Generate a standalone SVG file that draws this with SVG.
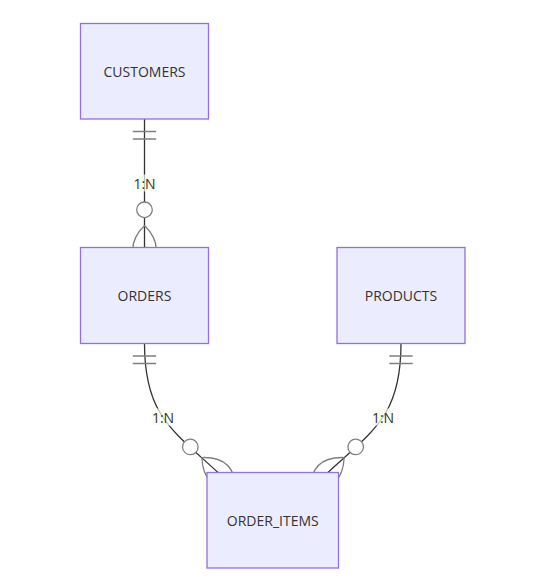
<svg xmlns="http://www.w3.org/2000/svg" width="543" height="586" viewBox="0 0 543 586">
  <style>
    .entity rect { fill: #ECECFF; stroke: #9370DB; stroke-width: 1.3; }
    .entity text { fill: #333333; font-family: "Open Sans", "Liberation Sans", sans-serif; font-size: 14px; text-anchor: middle; dominant-baseline: central; }
    .rel { fill: none; stroke: #333333; stroke-width: 1.3; marker-start: url(#onlyOneStart); marker-end: url(#zeroOrMoreEnd); }
    .lblbox { fill: #F9FFEC; opacity: 0.7; }
    .lbl { fill: #333333; font-family: "Open Sans", "Liberation Sans", sans-serif; font-size: 14px; text-anchor: middle; dominant-baseline: central; }
    .mk { stroke: #808080; stroke-width: 1.3; }
  </style>
  <defs>
    <marker id="onlyOneStart" markerUnits="userSpaceOnUse" viewBox="0 -15 30 30" refX="0" refY="0" markerWidth="30" markerHeight="30" orient="auto">
      <path class="mk" d="M12.5,-11.7 L12.5,11.7 M20,-11.7 L20,11.7" fill="none"/>
    </marker>
    <marker id="zeroOrMoreEnd" markerUnits="userSpaceOnUse" viewBox="-50 -26 80 52" refX="0" refY="0" markerWidth="80" markerHeight="52" orient="auto">
      <circle class="mk" cx="-37.7" cy="0" r="7.8" fill="#ffffff"/>
      <path class="mk" d="M-22,0 Q1.4,-23.4 24.8,0 Q1.4,23.4 -22,0" fill="none"/>
    </marker>
  </defs>

  <g id="connectors">
    <path id="rel-customers-orders" class="rel" d="M144.5,119 L144.5,247.5"/>
    <path id="rel-orders-orderitems" class="rel" d="M144.5,343.5 C144.5,415 172,430 218,472.5"/>
    <path id="rel-products-orderitems" class="rel" d="M401,343.5 C401,415 374,430 328,472.5"/>
    <g id="labels">
      <rect class="lblbox" x="133.5" y="174.5" width="22" height="17"/>
      <text class="lbl" x="144.5" y="183">1:N</text>
      <rect class="lblbox" x="152" y="408.5" width="22" height="17"/>
      <text class="lbl" x="163" y="417">1:N</text>
      <rect class="lblbox" x="372" y="408.5" width="22" height="17"/>
      <text class="lbl" x="383" y="417">1:N</text>
    </g>
  </g>

  <g id="CUSTOMERS" class="entity">
    <rect x="80.5" y="23.5" width="128" height="95.5"/>
    <text x="144.5" y="71">CUSTOMERS</text>
  </g>
  <g id="ORDERS" class="entity">
    <rect x="80.5" y="247.5" width="128" height="96"/>
    <text x="144.5" y="295">ORDERS</text>
  </g>
  <g id="PRODUCTS" class="entity">
    <rect x="337" y="247.5" width="128" height="96"/>
    <text x="401" y="295">PRODUCTS</text>
  </g>
  <g id="ORDER_ITEMS" class="entity">
    <rect x="207" y="472.5" width="131.5" height="95.5"/>
    <text x="272.75" y="520">ORDER_ITEMS</text>
  </g>
</svg>
